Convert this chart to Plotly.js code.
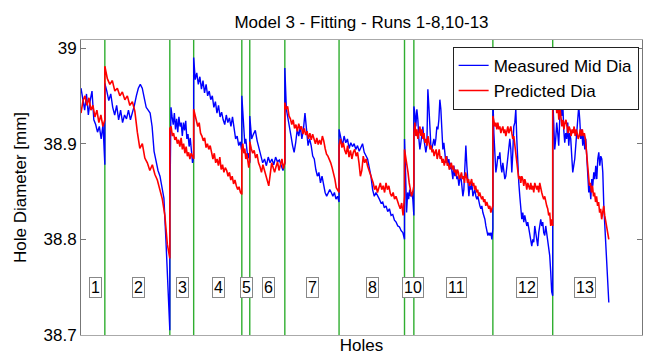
<!DOCTYPE html>
<html><head><meta charset="utf-8">
<script src="https://cdn.plot.ly/plotly-3.0.1.min.js"></script>
<style>html,body{margin:0;padding:0;background:#fff}#chart{width:648px;height:355px}</style>
</head><body><div id="chart"></div>
<script>
// Run labels and hole boundaries between runs
const runNames = ['1','2','3','4','5','6','7','8','10','11','12','13'];
const runEdges = [0, 51, 190, 241, 344, 361, 436, 552, 692, 712, 881, 1009, 1129];
const labelHoles = [30, 124, 218, 294, 355, 402, 496, 624, 711, 804, 953, 1077];
const labelLevel = 38.75;

// Measured mid diameter [mm], per run
const measuredRun1 = [38.958,38.945,38.935,38.952,38.930,38.945,38.955,38.925,38.920,38.912,38.918,38.905,38.920,38.878];
const measuredRun2 = [38.963,38.955,38.945,38.952,38.938,38.930,38.940,38.925,38.935,38.922,38.930,38.926,38.935,38.925,38.932,38.940,38.950,38.958,38.962,38.958,38.948,38.938,38.935,38.932,38.918,38.892,38.882,38.872,38.866,38.856,38.843,38.800,38.750,38.705];
const measuredRun3 = [38.830,38.938,38.928,38.920,38.932,38.915,38.926,38.912,38.928,38.918,38.922,38.908,38.922,38.914,38.924,38.905,38.910,38.897,38.906,38.890,38.880,38.886];
const measuredRun4 = [38.990,38.967,38.974,38.962,38.970,38.957,38.966,38.953,38.962,38.950,38.955,38.946,38.950,38.938,38.944,38.932,38.940,38.928,38.933,38.925,38.920,38.930,38.922,38.927,38.918,38.928,38.915,38.905,38.908,38.898,38.902,38.892];
const measuredRun5 = [38.950,38.935,38.915,38.900,38.905,38.893,38.885,38.890,38.880];
const measuredRun6 = [38.929,38.905,38.910,38.914,38.903,38.895,38.887,38.880,38.884,38.877,38.886,38.880,38.884,38.878,38.886,38.881,38.883,38.878,38.872,38.880];
const measuredRun7 = [38.979,38.936,38.925,38.918,38.908,38.898,38.891,38.901,38.915,38.908,38.918,38.905,38.915,38.932,38.915,38.898,38.905,38.898,38.887,38.884,38.873,38.866,38.870,38.859,38.866,38.856,38.849,38.845,38.849,38.852,38.849,38.845,38.849,38.842,38.845,38.839];
const measuredRun8 = [38.915,38.905,38.898,38.908,38.901,38.905,38.895,38.901,38.897,38.900,38.894,38.898,38.892,38.896,38.900,38.891,38.887,38.884,38.875,38.866,38.852,38.845,38.849,38.846,38.842,38.838,38.839,38.833,38.835,38.829,38.832,38.825,38.826,38.820,38.818,38.814,38.813,38.809,38.807,38.800];
const measuredRun10 = [38.905,38.870,38.828,38.849,38.842,38.852,38.845,38.849,38.842,38.825];
const measuredRun11 = [38.939,38.932,38.918,38.936,38.925,38.905,38.894,38.901,38.911,38.918,38.905,38.898,38.891,38.898,38.957,38.939,38.911,38.898,38.894,38.901,38.905,38.898,38.905,38.918,
  38.915,38.925,38.946,38.936,38.918,38.894,38.901,38.891,38.880,38.887,38.877,38.884,38.873,38.880,38.870,38.863,38.877,38.866,38.873,38.863,38.866,38.856,38.863,38.866,38.856,38.845,38.852,38.870,38.898,38.877,38.859,38.845,38.856,38.852,38.859,38.845,38.849,38.852,38.845,38.842,38.845,38.839,38.835,38.832,38.835,38.828,38.825,38.821,38.814,38.807,38.804,38.807,38.804,38.807,38.800,38.811];
const measuredRun12 = [38.950,38.911,38.887,38.870,38.877,38.887,38.884,38.891,38.877,38.870,38.880,38.873,38.863,38.866,38.877,38.884,38.891,38.905,38.894,38.870,38.891,38.918,38.922,38.936,38.905,38.877,38.859,38.845,38.832,38.821,38.828,38.818,38.825,38.821,38.814,38.818,38.811,38.807,38.800,38.793,38.800,38.797,
  38.814,38.807,38.800,38.793,38.807,38.814,38.821,38.814,38.818,38.807,38.804,38.814,38.807,38.800,38.793,38.783,38.766,38.745,38.741];
const measuredRun13 = [38.950,38.922,38.894,38.905,38.922,38.911,38.898,38.925,38.946,38.929,38.943,38.915,38.901,38.911,38.905,38.922,38.898,38.911,38.905,38.887,38.870,38.877,38.884,38.898,38.911,38.918,38.939,38.925,38.905,38.915,38.898,38.911,38.894,38.905,38.884,38.866,38.849,38.856,38.842,38.863,38.856,38.870,38.863,38.877,38.863,38.884,38.891,38.877,38.887,38.884,38.870,38.835,38.814,38.793,38.773,38.752,38.734];

// Predicted diameter [mm], per run
const predictedRun1 = [38.932,38.945,38.950,38.940,38.948,38.935,38.940,38.928,38.935,38.922,38.930,38.918,38.925];
const predictedRun2 = [38.981,38.968,38.962,38.966,38.955,38.958,38.950,38.954,38.946,38.950,38.940,38.944,38.934,38.912,38.895,38.900,38.885,38.880,38.872,38.878,38.868,38.862,38.852,38.842,38.825,38.795,38.780];
const predictedRun3 = [38.916,38.918,38.908,38.911,38.904,38.907,38.900,38.904,38.897,38.906,38.894,38.900,38.890,38.897,38.887,38.891,38.884,38.890,38.887,38.884];
const predictedRun4 = [38.936,38.929,38.925,38.918,38.922,38.911,38.908,38.903,38.906,38.896,38.900,38.894,38.898,38.890,38.884,38.890,38.880,38.884,38.877,38.886,38.873,38.878,38.870,38.875,38.872,38.866,38.870,38.862,38.866,38.858,38.862,38.856,38.852,38.855,38.849,38.847];
const predictedRun5 = [38.894,38.900,38.890,38.895,38.884,38.890,38.878,38.875,38.883];
const predictedRun6 = [38.902,38.895,38.890,38.893,38.885,38.889,38.880,38.876,38.870,38.878,38.872,38.866,38.862,38.856,38.868,38.880,38.875,38.870,38.876,38.881,38.872,38.878,38.884,38.874,38.880];
const predictedRun7 = [38.943,38.936,38.939,38.929,38.926,38.920,38.925,38.916,38.920,38.913,38.921,38.915,38.918,38.910,38.916,38.909,38.913,38.905,38.911,38.904,38.910,38.905,38.900,38.906,38.899,38.904,38.899,38.908,38.903,38.895,38.889,38.887,38.884,38.880,38.875,38.870,38.863,38.854,38.852,38.849];
const predictedRun8 = [38.898,38.905,38.896,38.901,38.893,38.889,38.898,38.886,38.893,38.884,38.891,38.894,38.887,38.891,38.880,38.866,38.872,38.887,38.880,38.884,38.877,38.873,38.868,38.864,38.859,38.852,38.856,38.849,38.855,38.859,38.852,38.856,38.849,38.859,38.852,38.856,38.848,38.845,38.849,38.842,38.845,38.839,38.836,38.832,38.838,38.825,38.845];
const predictedRun10 = [38.894,38.887,38.877,38.870,38.859,38.852,38.845,38.849,38.856];
const predictedRun11 = [38.911,38.922,38.908,38.915,38.905,38.911,38.918,38.908,38.915,38.905,38.911,38.901,38.905,38.898,38.908,38.901,38.894,38.898,38.891,38.894,38.887,38.891,38.894,38.884,
  38.891,38.894,38.884,38.887,38.880,38.884,38.877,38.884,38.887,38.877,38.880,38.873,38.877,38.880,38.873,38.877,38.870,38.873,38.866,38.873,38.870,38.863,38.866,38.870,38.863,38.866,38.859,38.870,38.866,38.859,38.863,38.856,38.859,38.863,38.856,38.859,38.852,38.856,38.849,38.852,38.845,38.849,38.845,38.842,38.845,38.839,38.842,38.835,38.839,38.835,38.832,38.835,38.828,38.832,38.835];
const predictedRun12 = [38.929,38.925,38.918,38.922,38.915,38.922,38.915,38.918,38.911,38.915,38.918,38.911,38.915,38.908,38.915,38.918,38.911,38.915,38.918,38.911,38.905,38.908,38.898,38.887,38.877,38.870,38.863,38.866,38.859,38.866,38.863,38.856,38.863,38.859,38.852,38.859,38.856,38.852,38.859,38.852,38.856,38.849,
  38.859,38.856,38.852,38.856,38.849,38.859,38.852,38.849,38.845,38.842,38.845,38.839,38.835,38.832,38.825,38.828,38.814,38.821,38.814];
const predictedRun13 = [38.946,38.943,38.939,38.946,38.932,38.943,38.925,38.939,38.929,38.918,38.925,38.915,38.922,38.925,38.918,38.911,38.918,38.915,38.908,38.915,38.911,38.918,38.908,38.915,38.911,38.905,38.908,38.915,38.908,38.915,38.908,38.911,38.905,38.891,38.877,38.870,38.856,38.859,38.849,38.856,38.845,38.849,38.839,38.845,38.835,38.839,38.828,38.832,38.821,38.828,38.835,38.825,38.818,38.811,38.804,38.800];

const measuredRuns = [measuredRun1,measuredRun2,measuredRun3,measuredRun4,measuredRun5,measuredRun6,measuredRun7,measuredRun8,measuredRun10,measuredRun11,measuredRun12,measuredRun13];
const predictedRuns = [predictedRun1,predictedRun2,predictedRun3,predictedRun4,predictedRun5,predictedRun6,predictedRun7,predictedRun8,predictedRun10,predictedRun11,predictedRun12,predictedRun13];

function buildSeries(runs) {
  const xs = [], ys = [];
  runs.forEach((vals, k) => {
    const a = runEdges[k], b = runEdges[k + 1], n = vals.length;
    vals.forEach((v, j) => { xs.push(a + (b - a) * j / (n - 1)); ys.push(v); });
  });
  return {xs, ys};
}
const meas = buildSeries(measuredRuns);
const pred = buildSeries(predictedRuns);

const FONT = 'Liberation Sans, Arial, sans-serif';
const traces = [
  {x: meas.xs, y: meas.ys, type: 'scatter', mode: 'lines', name: 'Measured Mid Dia',
   line: {color: '#0000ff', width: 1.4}},
  {x: pred.xs, y: pred.ys, type: 'scatter', mode: 'lines', name: 'Predicted Dia',
   line: {color: '#ff0000', width: 1.6}}
];

const shapes = runEdges.slice(1, -1).map(e => ({
  type: 'line', xref: 'x', yref: 'paper', x0: e, x1: e, y0: 0, y1: 1,
  line: {color: '#2fae2f', width: 1.4}, layer: 'below'
}));

const annotations = runNames.map((t, i) => ({
  x: labelHoles[i], y: labelLevel, xref: 'x', yref: 'y', text: t, showarrow: false,
  font: {family: FONT, size: 16, color: '#000'}, bgcolor: '#fff',
  bordercolor: '#888', borderwidth: 1, borderpad: 1
}));

const layout = {
  width: 648, height: 355,
  margin: {l: 81, r: 6, t: 40, b: 20},
  paper_bgcolor: '#fff', plot_bgcolor: '#fff',
  font: {family: FONT, size: 17, color: '#000'},
  title: {text: 'Model 3 - Fitting - Runs 1-8,10-13', font: {family: FONT, size: 17, color: '#000'},
          xref: 'paper', x: 0.5, xanchor: 'center', yref: 'container', y: 0.938, yanchor: 'middle'},
  xaxis: {range: [0, 1200], showticklabels: false, ticks: '', showgrid: false, zeroline: false,
          showline: true, linecolor: '#aaa', linewidth: 1, mirror: true,
          title: {text: 'Holes', font: {family: FONT, size: 17, color: '#000'}, standoff: 4}},
  yaxis: {range: [38.7, 39.0084], tickvals: [38.7, 38.8, 38.9, 39], ticktext: ['38.7', '38.8', '38.9', '39'],
          ticks: 'inside', ticklen: 5, tickcolor: '#777', showgrid: false, zeroline: false,
          showline: true, linecolor: '#777', linewidth: 1, mirror: 'ticks',
          tickfont: {family: FONT, size: 17, color: '#000'},
          title: {text: 'Hole Diameter [mm]', font: {family: FONT, size: 17, color: '#000'}, standoff: 12}},
  legend: {x: 0.994, y: 0.977, xanchor: 'right', yanchor: 'top', bgcolor: '#fff',
           bordercolor: '#222', borderwidth: 1, font: {family: FONT, size: 17, color: '#000'},
           tracegroupgap: 0},
  shapes: shapes,
  annotations: annotations,
  showlegend: true
};

Plotly.newPlot('chart', traces, layout, {displayModeBar: false, staticPlot: true});
</script>
</body></html>
